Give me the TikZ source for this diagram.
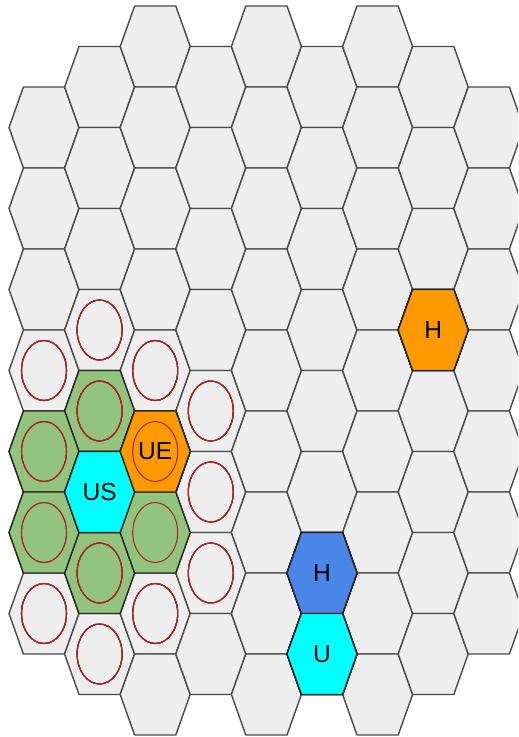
\documentclass[tikz,border=0pt]{standalone}
\usepackage{fontspec}
\setmainfont{Liberation Sans}
\usepackage{tikz}
\usetikzlibrary{positioning}
\definecolor{cellgrey}{HTML}{EEEEEE}
\definecolor{cellline}{HTML}{4A4A4A}
\definecolor{nbgreen}{HTML}{93C47D}
\definecolor{ringred}{HTML}{A52828}
\definecolor{hubblue}{HTML}{4A86E8}
\definecolor{hot}{HTML}{FF9900}
\definecolor{usercyan}{HTML}{00FFFF}
\newcommand{\hexcell}[2]{\draw[#1,shift={(#2)}] (-35,0)--(-20.6,-40.5)--(20.6,-40.5)--(35,0)--(20.6,40.5)--(-20.6,40.5)--cycle;}

\begin{document}
\begin{tikzpicture}[x=0.02cm,y=-0.02cm,font=\fontsize{14}{16}\selectfont,
  cell/.style={draw=cellline,fill=cellgrey,line width=.8pt,line join=round},
  mark cell/.style={cell,draw=black!85,fill=#1},
  ring/.style={draw=ringred,line width=.6pt}]
 \useasboundingbox (0,0) rectangle (518,737);
 \clip (0,0) rectangle (518,737);
 \foreach \c/\kfirst/\klast in {1/1/7,2/0/7,3/0/8,4/0/7,5/0/8,6/0/7,7/0/8,8/0/7,9/1/7}
  \foreach \k in {\kfirst,...,\klast} {
   \pgfmathsetmacro\cx{44+55.6*(\c-1)}
   \pgfmathsetmacro\cy{(mod(\c,2)==1 ? 46.5 : 87)+81*\k}
   \coordinate (h-\c-\k) at (\cx,\cy);
   \hexcell{cell}{h-\c-\k}
  }
 \foreach \p in {2-4,2-6,1-5,1-6,3-6}
  \hexcell{mark cell=nbgreen}{h-\p}
 \hexcell{mark cell=usercyan}{h-2-5}
 \hexcell{mark cell=hot}{h-3-5}
 \hexcell{mark cell=hot}{h-8-3}
 \hexcell{mark cell=hubblue}{h-6-6}
 \hexcell{mark cell=usercyan}{h-6-7}
 \foreach \p in {2-3,1-4,3-4,4-4,4-5,4-6,3-7,2-7,1-7,2-4,2-6,1-5,1-6,3-6,3-5}
  \draw[ring] (h-\p) ellipse [x radius=22.5, y radius=30];
 \node (us) at (h-2-5) {US};
 \node (ue) at (h-3-5) {UE};
 \node (hub1) at (h-8-3) {H};
 \node (hub2) at (h-6-6) {H};
 \node (u) at (h-6-7) {U};
\end{tikzpicture}
\end{document}
